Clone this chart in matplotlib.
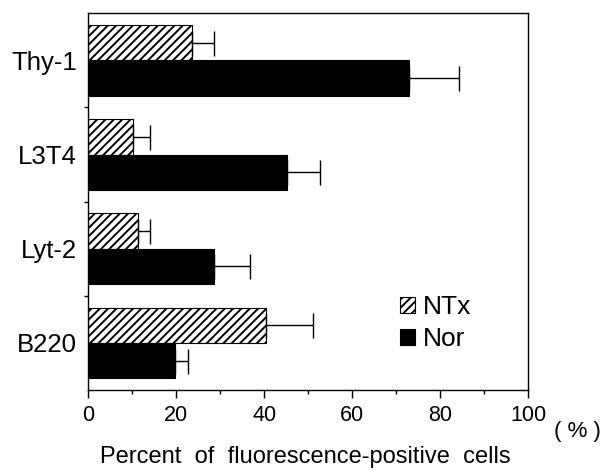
import numpy as np
import matplotlib
matplotlib.use("Agg")
import matplotlib.pyplot as plt
from matplotlib.ticker import MultipleLocator

plt.rcParams['font.family'] = ['Liberation Sans', 'DejaVu Sans']
plt.rcParams['hatch.linewidth'] = 1.4

# data (percent of fluorescence-positive cells)
markers = ['Thy-1', 'L3T4', 'Lyt-2', 'B220']
ntx_mean = [23.6, 10.2, 11.4, 40.4]
ntx_err = [5.1, 3.8, 2.7, 10.6]
nor_mean = [72.9, 45.2, 28.6, 19.8]
nor_err = [11.3, 7.4, 8.2, 2.8]
series_labels = ['NTx', 'Nor']

fig = plt.figure(figsize=(6.06, 4.71), dpi=100)
ax = fig.add_axes([88/606, 1-390/471, (528.3-88)/606, (390-13.3)/471])

y = np.arange(len(markers))
h = 0.375

ax.barh(y - h/2, ntx_mean, height=h, color='white', edgecolor='black',
        hatch='////', linewidth=0.8, label=series_labels[0])
ax.barh(y + h/2, nor_mean, height=h, color='black', edgecolor='black',
        linewidth=0.8, label=series_labels[1])

zeros = np.zeros(len(markers))
ax.errorbar(ntx_mean, y - h/2, xerr=[zeros, ntx_err], fmt='none',
            ecolor='black', elinewidth=1, capsize=9, capthick=1)
ax.errorbar(nor_mean, y + h/2, xerr=[zeros, nor_err], fmt='none',
            ecolor='black', elinewidth=1, capsize=9, capthick=1)

ax.set_xlim(0, 100)
ax.set_ylim(3.5, -0.5)

ax.set_xticks([0, 20, 40, 60, 80, 100])
ax.xaxis.set_minor_locator(MultipleLocator(10))
ax.tick_params(axis='x', which='major', direction='out', length=6, width=1,
               labelsize=15.5, pad=5)
ax.tick_params(axis='x', which='minor', direction='out', length=3, width=1)

ax.set_yticks(y)
ax.set_yticklabels(markers)
ax.set_yticks([0.5, 1.5, 2.5], minor=True)
ax.tick_params(axis='y', which='major', length=0, labelsize=18.5, pad=8)
ax.tick_params(axis='y', which='minor', direction='out', length=3, width=1)

for s in ax.spines.values():
    s.set_linewidth(1)

fig.text(577/606, 1-432/471, '( % )', ha='center', va='center', fontsize=16)
fig.text(305/606, 1-457/471, 'Percent  of  fluorescence-positive  cells',
         ha='center', va='center', fontsize=17)

fig.legend(loc='upper left', bbox_to_anchor=(400/606, 1-295/471),
           frameon=False, fontsize=19, handlelength=0.55, handleheight=0.55,
           handletextpad=0.3, labelspacing=0.3, borderpad=0, borderaxespad=0)

fig.savefig('out.png', dpi=100)
